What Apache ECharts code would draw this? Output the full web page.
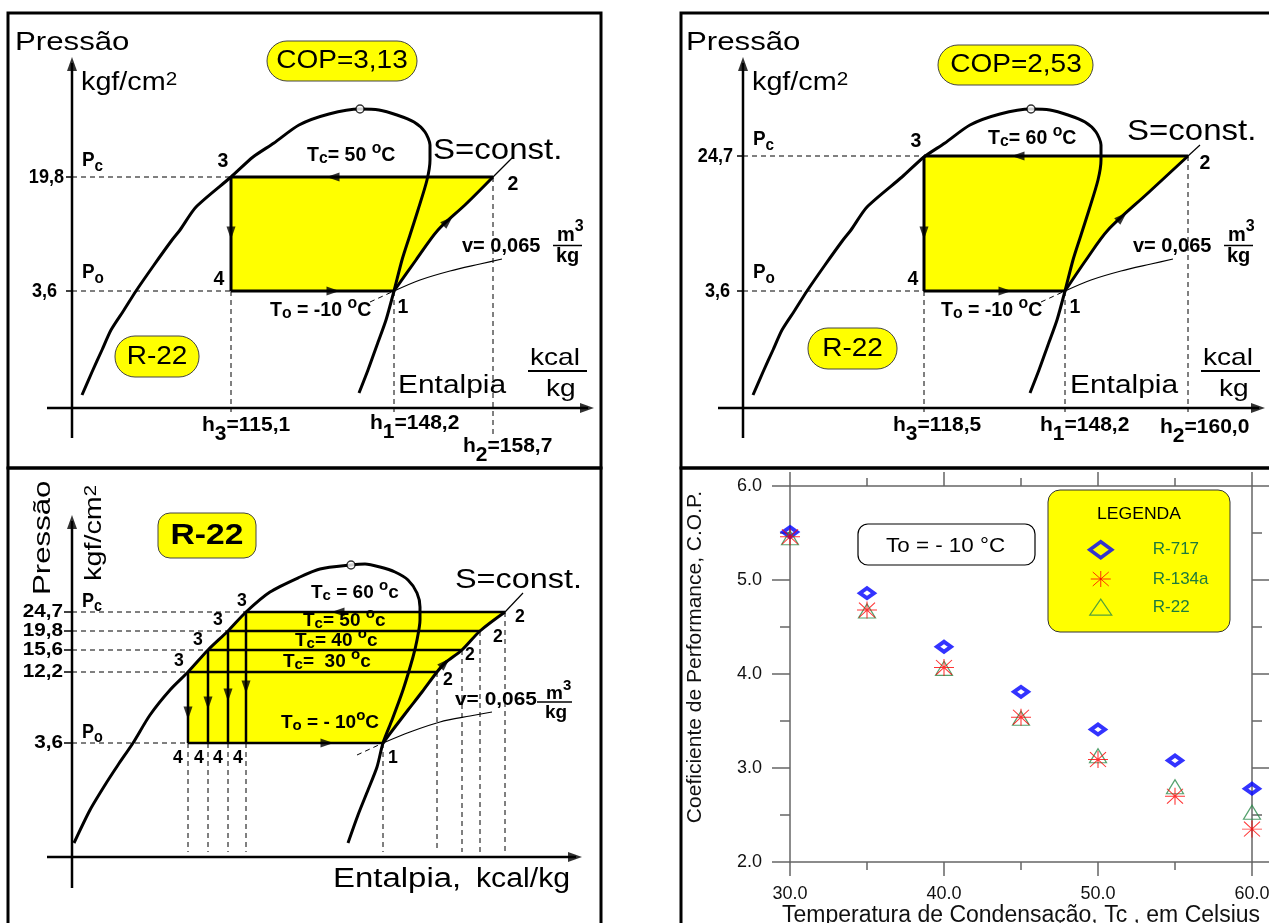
<!DOCTYPE html>
<html>
<head>
<meta charset="utf-8">
<script src="https://cdn.jsdelivr.net/npm/echarts@6/dist/echarts.min.js"></script>
<style>
  html, body { margin: 0; padding: 0; background: #fff; }
  #main { width: 1269px; height: 923px; }
</style>
</head>
<body>
<div id="main"></div>
<script>
// ---------------- COP comparison (scatter) ----------------
const condTemps = [30, 35, 40, 45, 50, 55, 60];
const copR717  = [5.51, 4.86, 4.29, 3.81, 3.41, 3.08, 2.78];
const copR134a = [5.46, 4.68, 4.07, 3.54, 3.09, 2.70, 2.35];
const copR22   = [5.45, 4.67, 4.06, 3.53, 3.13, 2.80, 2.53];

// ---------------- p-h diagrams (schematic diagram units) ----------------
// saturation dome shared by the two single-cycle diagrams
const domeLiquid = [[10,13],[20,36],[30,58],[39,78],[52,98],[64,117],[82,143],[100,168],[108,178],[124,201],[159,231],[181,251],[202,265],[227,283],[257,294],[288,299]];
const domeVapor  = [[288,299],[307,298],[325,293],[342,286],[353,276],[358,263],[358,248],[355,228],[346,198],[338,173],[330,148],[322,117],[314,88],[305,63],[296,38],[287,15]];
const isoVolume  = [[322,117],[348,128],[378,137],[408,144],[430,149]];
const isoVolumeLow = [[298,106],[322,117]];

// Tc = 50 °C cycle (states 1..4) and compression path 1 -> 2
const cycle50 = [[322,117],[421,231],[159,231],[159,117]];
const comp50  = [[322,117],[344,148],[366,178],[394,204],[421,231]];
// Tc = 60 °C cycle
const cycle60 = [[322,117],[445,252],[181,252],[181,117]];
const comp60  = [[322,117],[343,148],[365,178],[405,215],[445,252]];

const pLabels50 = ['19,8', '3,6'];
const hLabels50 = ['115,1', '148,2', '158,7'];
const pLabels60 = ['24,7', '3,6'];
const hLabels60 = ['118,5', '148,2', '160,0'];

// four cycles on one diagram (Tc = 60, 50, 40, 30 °C)
const multiTc      = [60, 50, 40, 30];
const multiPLabels = ['24,7', '19,8', '15,6', '12,2', '3,6'];
const multiLiquid  = [[2,14],[18,47],[33,72],[46,92],[61,114],[78,142],[98,167],[116,185],[136,207],[156,226],[174,245],[198,265],[228,280],[248,288],[279,292]];
const multiVapor   = [[279,292],[293,293],[308,290],[323,285],[336,277],[345,264],[348,250],[348,237],[345,217],[341,200],[331,167],[320,137],[311,114],[305,90],[296,67],[286,42],[276,14]];
const multiState3  = [[174,245],[156,226],[136,207],[116,185]];
const multiState2  = [[433,245],[408,226],[390,207],[365,185]];
const multiState1  = [311,114];
const multiComp    = [[311,114],[323,130],[336,147],[350,165],[365,185],[373,194],[390,207],[408,226],[433,245]];
const multiIsoVol  = [[311,114],[338,125],[368,135],[398,141],[420,145]];
const multiIsoVolLow = [[285,102],[311,114]];

const fmtCop = v => v.toFixed(2).replace('.', ',');

// ---------------- layout ----------------
const FF = "'Liberation Sans', Arial, Helvetica, sans-serif";
const PH = [
  { ox: 72,  oy: 408, x0: -64, x1: 528, y0: -55, y1: 395 },
  { ox: 743, oy: 408, x0: -64, x1: 528, y0: -55, y1: 395 },
  { ox: 72,  oy: 857, x0: -64, x1: 528, y0: -66, y1: 389 }
];
const SC = { left: 790, top: 486, width: 462, height: 376 };

const series = [];
const ARROW = 'path://M5,0L10,14L0,14Z';

function seg(gi, pts, width, o) {
  o = o || {};
  series.push({
    type: 'line', xAxisIndex: gi, yAxisIndex: gi, data: pts, symbol: 'none',
    silent: true, clip: false, smooth: o.smooth || false, z: o.z || 4,
    lineStyle: { color: '#000', width: width, type: o.dash ? [5, 4] : 'solid', cap: 'butt', join: 'round' }
  });
}
function fillPoly(gi, poly) {
  series.push({
    type: 'custom', xAxisIndex: gi, yAxisIndex: gi, data: [[0, 0]], silent: true, clip: false, z: 1,
    renderItem: (p, api) => ({
      type: 'polygon',
      shape: { points: poly.map(q => api.coord(q)) },
      style: { fill: '#ffff00' }
    })
  });
}
function heads(gi, list, size) {
  series.push({
    type: 'scatter', xAxisIndex: gi, yAxisIndex: gi, silent: true, clip: false, z: 6,
    symbol: ARROW, symbolSize: size || [9, 13], itemStyle: { color: '#000' },
    data: list.map(a => ({ value: [a[0], a[1]], symbolRotate: a[2] }))
  });
}
function criticalPoint(gi, pt) {
  series.push({
    type: 'scatter', xAxisIndex: gi, yAxisIndex: gi, silent: true, clip: false, z: 7,
    symbol: 'circle', symbolSize: 8,
    itemStyle: { color: '#fff', borderColor: '#000', borderWidth: 1.5 },
    data: [pt]
  });
}
function axesOf(gi, xEnd, yEnd, yStart) {
  seg(gi, [[0, yStart], [0, yEnd - 6]], 2.5);
  seg(gi, [[-25, 0], [xEnd - 6, 0]], 2.5);
  heads(gi, [[0, yEnd - 7, 0], [xEnd - 7, 0, -90]], [10, 14]);
}

// single-cycle diagram
function singleCycle(gi, cyc, comp, ext, s2Drop, arrows) {
  const s1 = cyc[0], s2 = cyc[1], s3 = cyc[2], s4 = cyc[3];
  fillPoly(gi, [s3, s2].concat(comp.slice(0, -1).reverse(), [s4]));
  axesOf(gi, 522, 351, -30);
  seg(gi, domeLiquid.concat(domeVapor.slice(1)), 3, { smooth: 0.25, z: 3 });
  seg(gi, [s3, s2], 3);
  seg(gi, [s3, s4], 3);
  seg(gi, [s4, s1], 3);
  seg(gi, comp, 3, { smooth: 0.3 });
  seg(gi, [s2, ext], 1.2);
  seg(gi, isoVolume, 1.2, { smooth: 0.3 });
  seg(gi, isoVolumeLow, 1, { dash: true });
  // guide lines
  seg(gi, [[0, s3[1]], s3], 1, { dash: true, z: 2 });
  seg(gi, [[0, s4[1]], s4], 1, { dash: true, z: 2 });
  seg(gi, [[-6, s3[1]], [0, s3[1]]], 1.5);
  seg(gi, [[-6, s4[1]], [0, s4[1]]], 1.5);
  seg(gi, [s4, [s4[0], -4]], 1, { dash: true, z: 2 });
  seg(gi, [s1, [s1[0], -4]], 1, { dash: true, z: 2 });
  seg(gi, [s2, [s2[0], s2Drop]], 1, { dash: true, z: 2 });
  heads(gi, arrows);
  criticalPoint(gi, domeVapor[0]);
}

singleCycle(0, cycle50, comp50, [441, 251], -26,
  [[159, 175, 180], [261, 231, 90], [261, 117, -90], [376, 187, -47]]);
singleCycle(1, cycle60, comp60, [457, 263], -4,
  [[181, 175, 180], [275, 252, 90], [262, 117, -90], [379, 191, -47]]);

// multi-cycle diagram
(function () {
  const gi = 2;
  const evap = multiState1[1];
  const s4 = multiState3.map(p => [p[0], evap]);
  const low = multiState3[multiState3.length - 1];
  const liqPart = multiLiquid.filter(p => p[1] >= low[1] && p[1] <= multiState3[0][1]);
  fillPoly(gi, liqPart.concat([multiState2[0]], multiComp.slice(0, -1).reverse(), [[low[0], evap]]));
  axesOf(gi, 510, 342, -31);
  seg(gi, multiLiquid.concat(multiVapor.slice(1)), 3, { smooth: 0.25, z: 3 });
  multiState3.forEach((p, i) => {
    seg(gi, [p, multiState2[i]], 2.5);
    seg(gi, [p, s4[i]], 2.5);
    seg(gi, [[0, p[1]], p], 1, { dash: true, z: 2 });
    seg(gi, [[-8, p[1]], [0, p[1]]], 1.5);
    seg(gi, [s4[i], [p[0], 5]], 1, { dash: true, z: 2 });
    seg(gi, [multiState2[i], [multiState2[i][0], 5]], 1, { dash: true, z: 2 });
  });
  seg(gi, [[low[0], evap], multiState1], 2.5);
  seg(gi, [[0, evap], [low[0], evap]], 1, { dash: true, z: 2 });
  seg(gi, [[-8, evap], [0, evap]], 1.5);
  seg(gi, [multiState1, [multiState1[0], 5]], 1, { dash: true, z: 2 });
  seg(gi, multiComp, 3, { smooth: 0.3 });
  seg(gi, [multiState2[0], [451, 264]], 1.2);
  seg(gi, multiIsoVol, 1.2, { smooth: 0.3 });
  seg(gi, multiIsoVolLow, 1, { dash: true });
  heads(gi, [[116, 144, 180], [136, 154, 180], [156, 162, 180], [174, 170, 180],
             [266, 245, 90], [255, 114, -90], [373, 194, -45]]);
  criticalPoint(gi, multiVapor[0]);
})();

// scatter series
const ASTER = 'path://M0,8L20,8M10,0L10,16M2,1L18,15M18,1L2,15';
series.push({
  name: 'R-717', type: 'scatter', xAxisIndex: 3, yAxisIndex: 3, z: 3,
  data: condTemps.map((t, i) => [t, copR717[i]]),
  symbol: 'diamond', symbolSize: [14, 10],
  itemStyle: { color: 'rgba(255,255,255,0)', borderColor: '#0000ff', borderWidth: 4 }
});
series.push({
  name: 'R-134a', type: 'scatter', xAxisIndex: 3, yAxisIndex: 3, z: 5,
  data: condTemps.map((t, i) => [t, copR134a[i]]),
  symbol: ASTER, symbolSize: [20, 17],
  itemStyle: { color: 'rgba(255,255,255,0)', borderColor: '#ff0000', borderWidth: 1 }
});
series.push({
  name: 'R-22', type: 'scatter', xAxisIndex: 3, yAxisIndex: 3, z: 4,
  data: condTemps.map((t, i) => [t, copR22[i]]),
  symbol: 'triangle', symbolSize: [17, 14],
  itemStyle: { color: 'rgba(255,255,255,0)', borderColor: '#2a8a4a', borderWidth: 1.2 }
});

// ---------------- text helpers ----------------
function markup(str) {
  let out = '', buf = '';
  const flush = () => { if (buf) { out += '{n|' + buf + '}'; buf = ''; } };
  for (let i = 0; i < str.length; i++) {
    const ch = str[i];
    if (ch === '_' || ch === '^') { flush(); out += '{' + (ch === '_' ? 'b' : 'p') + '|' + str[i + 1] + '}'; i++; }
    else buf += ch;
  }
  flush();
  return out;
}
function label(x, y, str, size, o) {
  o = o || {};
  const w = o.bold ? 'bold' : 'normal';
  const c = o.color || '#000';
  const isRich = /[_^]/.test(str);
  const style = {
    text: isRich ? markup(str) : str,
    fontFamily: FF, fontSize: size, fontWeight: w, fill: c,
    textAlign: o.align || 'left', textVerticalAlign: 'middle',
    align: o.align || 'left', verticalAlign: 'middle'
  };
  if (isRich) {
    const subS = Math.round(size * (o.subScale || 0.8));
    const supS = Math.round(size * (o.supScale || 0.8));
    style.rich = {
      n: { fontFamily: FF, fontSize: size, fontWeight: w, fill: c },
      b: { fontFamily: FF, fontSize: subS, fontWeight: w, fill: c, padding: [Math.round(2 * (o.subDrop != null ? o.subDrop : size * 0.3)), 0, 0, 0] },
      p: { fontFamily: FF, fontSize: supS, fontWeight: w, fill: c, padding: [0, 0, Math.round(2 * (o.supRaise != null ? o.supRaise : size * 0.3)), 0] }
    };
  }
  return { type: 'text', x: x, y: y, scaleX: o.sx || 1, rotation: o.rot || 0, z: 100, silent: true, style: style };
}
function pill(x, y, w, h, r, o) {
  o = o || {};
  return { type: 'rect', z: o.z || 60, silent: true, shape: { x: x, y: y, width: w, height: h, r: r },
    style: { fill: o.fill || '#ffff00', stroke: o.stroke || '#444', lineWidth: o.lw || 1 } };
}
function hline(x1, x2, y, lw) {
  return { type: 'line', z: 100, silent: true, shape: { x1: x1, y1: y, x2: x2, y2: y }, style: { stroke: '#000', lineWidth: lw } };
}

const NB = { bold: true, sx: 0.93, subScale: 0.8, subDrop: 3, supScale: 0.8, supRaise: 7 };
const HB = { bold: true, sx: 1.0, subScale: 1.0, subDrop: 9 };
const PB = { bold: true, sx: 0.9, subScale: 0.8, subDrop: 6 };
const NUM = { bold: true, sx: 0.86, align: 'right' };
const DIG = { bold: true, sx: 0.93, align: 'center' };

const g = [];
// panel frames
g.push({ type: 'rect', z: 90, silent: true, shape: { x: 8, y: 13, width: 593, height: 455 }, style: { fill: 'none', stroke: '#000', lineWidth: 3 } });
g.push({ type: 'rect', z: 90, silent: true, shape: { x: 681, y: 13, width: 600, height: 455 }, style: { fill: 'none', stroke: '#000', lineWidth: 3 } });
g.push({ type: 'rect', z: 90, silent: true, shape: { x: 8, y: 468, width: 593, height: 470 }, style: { fill: 'none', stroke: '#000', lineWidth: 3 } });
g.push({ type: 'rect', z: 90, silent: true, shape: { x: 681, y: 468, width: 600, height: 470 }, style: { fill: 'none', stroke: '#000', lineWidth: 3 } });

// single-cycle panels
function singleTexts(dx, cop, tc, pl, hl, pos) {
  g.push(label(15 + dx, 43, 'Pressão', 26, { sx: 1.2 }));
  g.push(label(81 + dx, 83, 'kgf/cm^2', 25, { sx: 1.15, supScale: 0.72, supRaise: 2.5 }));
  g.push(pill(pos.cop[0], pos.cop[1], pos.cop[2], 40, 20));
  g.push(label(pos.cop[3], pos.cop[1] + 20, 'COP=' + cop, 25, { sx: 1.12, align: 'center' }));
  g.push(label(pos.pc[0], pos.pc[1], pl[0], 21, NUM));
  g.push(label(pos.po[0], 291, pl[1], 21, NUM));
  g.push(label(82 + dx, pos.pc[1] - 17, 'P_c', 21, PB));
  g.push(label(82 + dx, 272, 'P_o', 21, PB));
  const names = ['3', '4', '1', '2'];
  pos.digits.forEach((d, i) => g.push(label(d[0], d[1], names[i], 21, DIG)));
  g.push(label(pos.tc[0], pos.tc[1], 'T_c= ' + tc + ' ^oC', 21, NB));
  g.push(label(pos.to, 310, 'T_o = -10 ^oC', 21, NB));
  g.push(label(pos.s[0], pos.s[1], 'S=const.', 30, { sx: 1.1 }));
  g.push(label(pos.v, 246, 'v= 0,065', 20, { bold: true }));
  g.push(label(pos.m, 235, 'm^3', 20, { bold: true, supScale: 0.8, supRaise: 8 }));
  g.push(hline(pos.m - 4, pos.m + 25, 245.5, 1.5));
  g.push(label(pos.m - 1, 256, 'kg', 20, { bold: true }));
  g.push(label(pos.ent, 386, 'Entalpia', 26, { sx: 1.15 }));
  g.push(label(pos.kcal, 358, 'kcal', 24, { sx: 1.17 }));
  g.push(hline(pos.kcal - 2, pos.kcal + 57, 371, 2));
  g.push(label(pos.kcal + 16, 389, 'kg', 24, { sx: 1.17 }));
  g.push(label(pos.h[0][0], pos.h[0][1], 'h_3=' + hl[0], 21, HB));
  g.push(label(pos.h[1][0], pos.h[1][1], 'h_1=' + hl[1], 21, HB));
  g.push(label(pos.h[2][0], pos.h[2][1], 'h_2=' + hl[2], 21, HB));
  g.push(pill(pos.r[0], pos.r[1], pos.r[2], 41, 20));
  g.push(label(pos.r[0] + pos.r[2] / 2, pos.r[1] + 21, 'R-22', 25, { sx: 1.12, align: 'center' }));
}
singleTexts(0, fmtCop(copR22[4]), 50, pLabels50, hLabels50, {
  cop: [267, 41, 150, 342], pc: [64, 177], po: [57],
  digits: [[223, 161], [219, 279], [403, 307], [513, 184]],
  tc: [307, 155], to: 270, s: [433, 151], v: 462, m: 557, ent: 398, kcal: 530,
  h: [[202, 425], [370, 423], [463, 446]], r: [115, 336, 84]
});
singleTexts(671, fmtCop(copR22[6]), 60, pLabels60, hLabels60, {
  cop: [938, 45, 155, 1016], pc: [733, 156], po: [730],
  digits: [[916, 141], [913, 279], [1075, 307], [1205, 163]],
  tc: [988, 138], to: 941, s: [1127, 132], v: 1133, m: 1228, ent: 1070, kcal: 1203,
  h: [[893, 425], [1040, 425], [1160, 427]], r: [808, 328, 89]
});

// multi-cycle panel
g.push(label(43, 595, 'Pressão', 24, { sx: 1.3, rot: Math.PI / 2 }));
g.push(label(94, 581, 'kgf/cm^2', 24, { sx: 1.2, rot: Math.PI / 2, supScale: 0.72, supRaise: 2.5 }));
g.push(pill(158, 513, 98, 45, 12));
g.push(label(207, 536, 'R-22', 30, { bold: true, sx: 1.12, align: 'center' }));
[612, 631, 650, 672, 743].forEach((y, i) => g.push(label(63, y, multiPLabels[i], 18, { bold: true, sx: 1.15, align: 'right' })));
g.push(label(82, 601, 'P_c', 20, PB));
g.push(label(82, 732, 'P_o', 20, PB));
[[242, 601], [218, 620], [198, 640], [179, 661]].forEach(p => g.push(label(p[0], p[1], '3', 19, DIG)));
[[178, 758], [199, 758], [218, 758], [238, 758]].forEach(p => g.push(label(p[0], p[1], '4', 19, DIG)));
[[520, 617], [498, 637], [470, 655], [448, 680]].forEach(p => g.push(label(p[0], p[1], '2', 19, DIG)));
g.push(label(393, 758, '1', 19, DIG));
const TCB = { bold: true, sx: 1.0, subScale: 0.8, subDrop: 3, supScale: 0.8, supRaise: 7 };
g.push(label(311, 593, 'T_c = ' + multiTc[0] + ' ^oc', 19, TCB));
g.push(label(303, 621, 'T_c= ' + multiTc[1] + ' ^oc', 19, TCB));
g.push(label(295, 641, 'T_c= ' + multiTc[2] + ' ^oc', 19, TCB));
g.push(label(283, 662, 'T_c=  ' + multiTc[3] + ' ^oc', 19, TCB));
g.push(label(281, 723, 'T_o = - 10^oC', 19, TCB));
g.push(label(455, 581, 'S=const.', 27, { sx: 1.2 }));
g.push(label(455, 700, 'v= 0,065', 19, { bold: true, sx: 1.1 }));
g.push(label(546, 694, 'm^3', 19, { bold: true, supScale: 0.8, supRaise: 8 }));
g.push(hline(537, 572, 702, 1.5));
g.push(label(545, 713, 'kg', 19, { bold: true }));
g.push(label(333, 880, 'Entalpia,', 27, { sx: 1.22 }));
g.push(label(476, 880, 'kcal/kg', 27, { sx: 1.12 }));

// COP chart annotations
g.push(pill(858, 524, 177, 41, 10, { fill: '#fff', stroke: '#000', lw: 1.2 }));
g.push(label(886, 546, 'To = - 10 °C', 20, { sx: 1.12 }));
g.push(pill(1048, 490, 182, 142, 12, { fill: '#ffff00', stroke: '#333', lw: 1, z: 1 }));
g.push(label(1139, 515, 'LEGENDA', 16, { sx: 1.1, align: 'center' }));

// ---------------- axes ----------------
const AX = '#666';
const xAxes = PH.map((p, i) => ({ gridIndex: i, type: 'value', min: p.x0, max: p.x1, show: false }));
const yAxes = PH.map((p, i) => ({ gridIndex: i, type: 'value', min: p.y0, max: p.y1, show: false }));
const tickX = { show: true, length: 14, inside: false, lineStyle: { color: AX, width: 1.5 } };
const minorX = { show: true, splitNumber: 2, length: 8, lineStyle: { color: AX, width: 1.5 } };
const tickY = { show: true, length: 18, inside: false, lineStyle: { color: AX, width: 1.5 } };
const minorY = { show: true, splitNumber: 2, length: 10, lineStyle: { color: AX, width: 1.5 } };
xAxes.push({
  gridIndex: 3, type: 'value', position: 'bottom', min: 30, max: 60, interval: 10,
  axisLine: { show: true, onZero: false, lineStyle: { color: AX, width: 1.5 } },
  axisTick: tickX, minorTick: minorX, splitLine: { show: false }, minorSplitLine: { show: false },
  axisLabel: { formatter: v => v.toFixed(1), fontSize: 18, color: '#111', fontFamily: FF, margin: 23 },
  name: 'Temperatura de Condensação, Tc , em Celsius', nameLocation: 'middle', nameGap: 41,
  nameTextStyle: { fontSize: 23, color: '#111', fontFamily: FF }
});
xAxes.push({
  gridIndex: 3, type: 'value', position: 'top', min: 30, max: 60, interval: 10,
  axisLine: { show: true, onZero: false, lineStyle: { color: AX, width: 1.5 } },
  axisTick: tickX, minorTick: minorX, splitLine: { show: false }, axisLabel: { show: false }
});
yAxes.push({
  gridIndex: 3, type: 'value', position: 'left', min: 2, max: 6, interval: 1,
  axisLine: { show: true, onZero: false, lineStyle: { color: AX, width: 1.5 } },
  axisTick: tickY, minorTick: minorY, splitLine: { show: false }, minorSplitLine: { show: false },
  axisLabel: { formatter: v => v.toFixed(1), fontSize: 18, color: '#111', fontFamily: FF, margin: 28 },
  name: 'Coeficiente de Performance, C.O.P.', nameLocation: 'middle', nameGap: 84, nameRotate: 90,
  nameTextStyle: { fontSize: 21, color: '#111', fontFamily: FF, padding: [0, 0, 0, 34] }
});
yAxes.push({
  gridIndex: 3, type: 'value', position: 'right', min: 2, max: 6, interval: 1,
  axisLine: { show: true, onZero: false, lineStyle: { color: AX, width: 1.5 } },
  axisTick: tickY, minorTick: minorY, splitLine: { show: false }, axisLabel: { show: false }
});

const grids = PH.map(p => ({
  left: p.ox + p.x0, top: p.oy - p.y1, width: p.x1 - p.x0, height: p.y1 - p.y0,
  containLabel: false, outerBoundsMode: 'none'
}));
grids.push(Object.assign({ containLabel: false, outerBoundsMode: 'none' }, SC));

const chart = echarts.init(document.getElementById('main'), null, { renderer: 'canvas', width: 1269, height: 923 });
chart.setOption({
  backgroundColor: '#fff',
  animation: false,
  grid: grids,
  xAxis: xAxes,
  yAxis: yAxes,
  legend: {
    show: true, orient: 'vertical', left: 1088, top: 540, padding: 0, z: 80,
    itemWidth: 22, itemHeight: 16, itemGap: 11, selectedMode: false,
    textStyle: { color: '#1e7b3c', fontSize: 17, fontFamily: FF, padding: [0, 0, 0, 36], lineHeight: 16 },
    data: [
      { name: 'R-717', itemStyle: { borderWidth: 3.5 } },
      { name: 'R-134a', itemStyle: { borderWidth: 1 } },
      { name: 'R-22', itemStyle: { borderWidth: 1.2 } }
    ]
  },
  graphic: { elements: g },
  series: series
});
</script>
</body>
</html>
